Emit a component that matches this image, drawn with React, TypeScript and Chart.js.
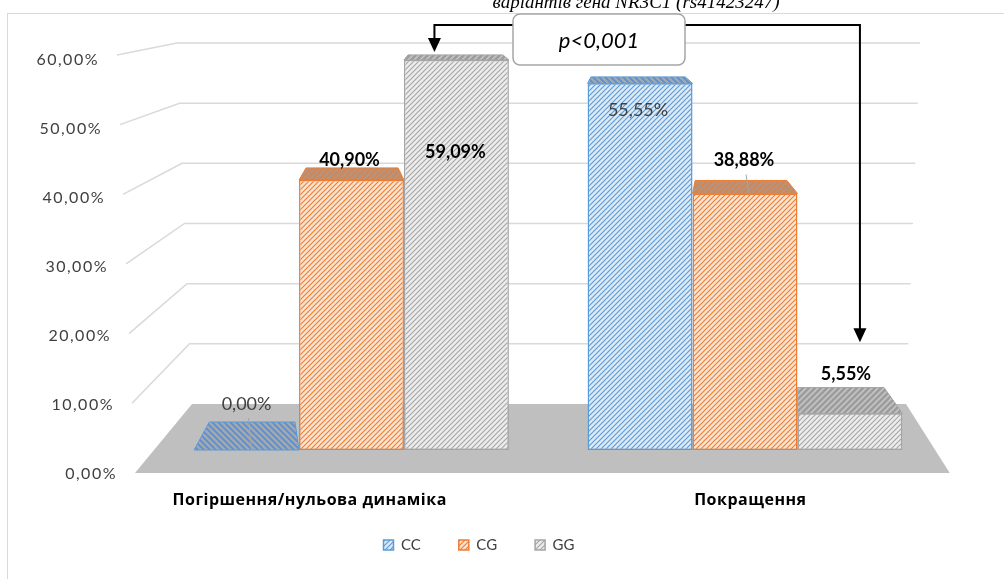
import React, { useEffect, useRef } from "react";
import { Chart, registerables } from "chart.js";

Chart.register(...registerables);

// ---------- data ----------
const categories = ["Погіршення/нульова динаміка", "Покращення"];
const seriesNames = ["CC", "CG", "GG"];
const ccValues = [0, 55.55];
const cgValues = [40.9, 38.88];
const ggValues = [59.09, 5.55];
const yTickValues = [0, 10, 20, 30, 40, 50, 60];
const titleText = "варіантів гена NR3C1 (rs41423247)";
const annotationText = "p<0,001";

// ---------- styles ----------
const seriesColors = ["#5b9bd5", "#ed7d31", "#a5a5a5"];
const frontBg = ["#dce9f6", "#fbe3d2", "#ececec"];
const topBg = ["#9fa9b4", "#b09584", "#9c9c9c"];
const topLine = ["#5b8ed0", "#d9844c", "#c4c4c4"];
const labelBold = [
  [false, false],
  [true, true],
  [true, true],
];
const labelDx = [
  [0, -2],
  [-2, -1],
  [-1, -4],
];
const labelDy = [
  [-46, 27],
  [-20, -33],
  [92, -39],
];
const leaders = [
  { ds: 0, idx: 0, from: 14, dx: 2 },
  { ds: 1, idx: 1, from: 14, dx: 2 },
];

const SANS = 'Lato, "Open Sans", sans-serif';
const CAT_FONT = '"Open Sans", sans-serif';

function makeHatch(bg: string, fg: string, size: number, lw: number, dir: number) {
  const c = document.createElement("canvas");
  c.width = size;
  c.height = size;
  const g = c.getContext("2d")!;
  g.fillStyle = bg;
  g.fillRect(0, 0, size, size);
  g.strokeStyle = fg;
  g.lineWidth = lw;
  g.beginPath();
  if (dir > 0) {
    g.moveTo(-1, size + 1);
    g.lineTo(size + 1, -1);
    g.moveTo(-1, 1);
    g.lineTo(1, -1);
    g.moveTo(size - 1, size + 1);
    g.lineTo(size + 1, size - 1);
  } else {
    g.moveTo(-1, -1);
    g.lineTo(size + 1, size + 1);
    g.moveTo(size - 1, -1);
    g.lineTo(size + 1, 1);
    g.moveTo(-1, size - 1);
    g.lineTo(1, size + 1);
  }
  g.stroke();
  return g.createPattern(c, "repeat")!;
}

function fmt(v: number) {
  return v.toFixed(2).replace(".", ",") + "%";
}

export default function App() {
  const ref = useRef<HTMLCanvasElement | null>(null);

  useEffect(() => {
    const canvas = ref.current!;
    const frontPatterns = seriesColors.map((c, i) => makeHatch(frontBg[i], c, 5, 1.1, 1));
    const topPatterns = seriesColors.map((c, i) => makeHatch(topBg[i], topLine[i], 6, 1.6, i === 0 ? -1 : 1));

    const scene = {
      id: "scene3d",
      beforeDraw(chart: any) {
        const ctx = chart.ctx as CanvasRenderingContext2D;
        ctx.save();
        ctx.fillStyle = "#ffffff";
        ctx.fillRect(0, 0, chart.width, chart.height);
        // frame
        ctx.strokeStyle = "#d9d9d9";
        ctx.lineWidth = 1;
        ctx.strokeRect(7.5, 13.5, chart.width + 20, chart.height + 20);
        // title (clipped at top)
        ctx.fillStyle = "#000";
        ctx.font = 'italic 19px "Liberation Serif", serif';
        ctx.textAlign = "center";
        ctx.textBaseline = "alphabetic";
        ctx.fillText(titleText, 636, 8);
        ctx.restore();
      },
      beforeDatasetsDraw(chart: any) {
        const ctx = chart.ctx as CanvasRenderingContext2D;
        const ys = chart.scales.y;
        const ca = chart.chartArea;
        const y0 = ys.getPixelForValue(0);
        const span = y0 - ys.getPixelForValue(ys.max);
        const t = (v: number) => (y0 - ys.getPixelForValue(v)) / span;
        const labX = (v: number) => ca.left - 19.75 - 18 * t(v);
        const labY = (v: number) => y0 + 23 - (y0 - ys.getPixelForValue(v)) * 1.0556;
        const backY = (v: number) => y0 - 46 - (y0 - ys.getPixelForValue(v)) * 0.9116;
        const backL = (v: number) => ca.left + 37.25 - 15 * t(v);
        const backR = (v: number) => ca.right - 35.75 + 14 * t(v);
        ctx.save();
        // floor
        ctx.fillStyle = "#bfbfbf";
        ctx.beginPath();
        ctx.moveTo(labX(0), labY(0));
        ctx.lineTo(ca.right + 8, labY(0));
        ctx.lineTo(backR(0), backY(0));
        ctx.lineTo(backL(0), backY(0));
        ctx.closePath();
        ctx.fill();
        // grid lines
        ctx.strokeStyle = "#d9d9d9";
        ctx.lineWidth = 1.5;
        for (const v of yTickValues) {
          if (v === 0) continue;
          ctx.beginPath();
          ctx.moveTo(labX(v), labY(v));
          ctx.lineTo(backL(v), backY(v));
          ctx.lineTo(backR(v), backY(v));
          ctx.stroke();
        }
        // tick labels
        ctx.fillStyle = "#404040";
        ctx.font = `16px ${SANS}`;
        (ctx as any).letterSpacing = "1.5px";
        ctx.textAlign = "right";
        ctx.textBaseline = "middle";
        for (const v of yTickValues) {
          ctx.fillText(fmt(v), labX(v) - 18, labY(v) + 1 + 4 * t(v));
        }
        (ctx as any).letterSpacing = "0px";
        // category labels (perspective-shifted on the floor's front edge)
        ctx.fillStyle = "#000";
        ctx.font = `bold 16px ${CAT_FONT}`;
        (ctx as any).letterSpacing = "0.5px";
        ctx.textAlign = "center";
        const xs = chart.scales.x;
        categories.forEach((c, i) => {
          const cx = xs.getPixelForValue(i);
          ctx.fillText(c, 700 + (cx - 700) * 1.12, y0 + 50);
        });
        (ctx as any).letterSpacing = "0px";
        ctx.restore();
      },
      afterDatasetsDraw(chart: any) {
        const ctx = chart.ctx as CanvasRenderingContext2D;
        const ys = chart.scales.y;
        const ymax = ys.getPixelForValue(ys.max);
        ctx.save();
        // top faces
        chart.data.datasets.forEach((ds: any, i: number) => {
          const meta = chart.getDatasetMeta(i);
          meta.data.forEach((el: any) => {
            const { x, y, width } = el.getProps(["x", "y", "width"], true);
            const L = x - width / 2;
            const R = x + width / 2;
            const d = 0.0587 * (y - ymax) + 4.75;
            const c = (577 - x) * d * 0.000914;
            const shrink = 8 + 0.4 * d;
            const bl = L + c + shrink * 0.35;
            const br = R + c - shrink * 0.65;
            ctx.beginPath();
            ctx.moveTo(L, y);
            ctx.lineTo(R, y);
            ctx.lineTo(br, y - d);
            ctx.lineTo(bl, y - d);
            ctx.closePath();
            ctx.fillStyle = topPatterns[i];
            ctx.fill();
            ctx.strokeStyle = seriesColors[i];
            ctx.lineWidth = 1;
            ctx.stroke();
          });
        });
        // leader lines
        ctx.strokeStyle = "#a6a6a6";
        ctx.lineWidth = 1;
        for (const ld of leaders) {
          const el = chart.getDatasetMeta(ld.ds).data[ld.idx];
          const { x, y } = el.getProps(["x", "y"], true);
          const ly = y + labelDy[ld.ds][ld.idx] + ld.from;
          ctx.beginPath();
          ctx.moveTo(x + labelDx[ld.ds][ld.idx] + ld.dx, ly);
          ctx.lineTo(x + labelDx[ld.ds][ld.idx] + ld.dx + 3, y);
          ctx.stroke();
        }
        // data labels
        ctx.textAlign = "center";
        ctx.textBaseline = "middle";
        chart.data.datasets.forEach((ds: any, i: number) => {
          const meta = chart.getDatasetMeta(i);
          meta.data.forEach((el: any, j: number) => {
            const { x, y } = el.getProps(["x", "y"], true);
            const bold = labelBold[i][j];
            ctx.font = `${bold ? "bold " : ""}18px ${SANS}`;
            ctx.fillStyle = bold ? "#000" : "#404040";
            ctx.fillText(fmt(ds.data[j]), x + labelDx[i][j], y + labelDy[i][j]);
          });
        });
        ctx.restore();
      },
      afterDraw(chart: any) {
        const ctx = chart.ctx as CanvasRenderingContext2D;
        const gg = chart.getDatasetMeta(2).data;
        const a = gg[0].getProps(["x", "y"], true);
        const b = gg[1].getProps(["x", "y"], true);
        const boxL = 513, boxR = 685, boxT = 14, boxB = 65, lineY = 25;
        ctx.save();
        ctx.strokeStyle = "#000";
        ctx.fillStyle = "#000";
        ctx.lineWidth = 2;
        const arrow = (x0: number, x1: number, tipY: number) => {
          ctx.beginPath();
          ctx.moveTo(x0, lineY);
          ctx.lineTo(x1, lineY);
          ctx.lineTo(x1, tipY - 12);
          ctx.stroke();
          ctx.beginPath();
          ctx.moveTo(x1 - 6.5, tipY - 14);
          ctx.lineTo(x1 + 6.5, tipY - 14);
          ctx.lineTo(x1, tipY);
          ctx.closePath();
          ctx.fill();
        };
        arrow(boxL, a.x - 22, a.y - 8);
        arrow(boxR, b.x + 10, b.y - 71);
        ctx.beginPath();
        (ctx as any).roundRect(boxL, boxT, boxR - boxL, boxB - boxT, 7);
        ctx.fillStyle = "#fff";
        ctx.fill();
        ctx.strokeStyle = "#a6a6a6";
        ctx.lineWidth = 1.5;
        ctx.stroke();
        ctx.fillStyle = "#000";
        ctx.font = `italic 22px ${SANS}`;
        ctx.textAlign = "center";
        ctx.textBaseline = "middle";
        ctx.fillText(annotationText, (boxL + boxR) / 2, 41);
        ctx.restore();
      },
    };

    const chart = new Chart(canvas, {
      type: "bar",
      data: {
        labels: categories,
        datasets: [ccValues, cgValues, ggValues].map((vals, i) => ({
          label: seriesNames[i],
          data: vals,
          backgroundColor: frontPatterns[i],
          borderColor: seriesColors[i],
          borderWidth: 1.5,
          borderSkipped: false,
        })),
      },
      options: {
        responsive: false,
        animation: false,
        devicePixelRatio: 1,
        datasets: { bar: { categoryPercentage: 0.8, barPercentage: 1 } },
        layout: { padding: { left: 8, right: 54, top: 54, bottom: 16.5 } },
        plugins: {
          legend: {
            position: "bottom",
            labels: {
              boxWidth: 10,
              boxHeight: 10,
              padding: 38,
              color: "#404040",
              font: { family: SANS, size: 15 },
            },
          },
          tooltip: { enabled: false },
          title: { display: false },
        },
        scales: {
          x: {
            grid: { display: false },
            border: { display: false },
            ticks: { display: false },
            afterFit: (s: any) => {
              s.height = 49.5;
            },
          },
          y: {
            min: 0,
            max: 60,
            grid: { display: false },
            border: { display: false },
            ticks: { display: false },
            afterFit: (s: any) => {
              s.width = 146.75;
            },
          },
          yr: {
            type: "linear",
            position: "right",
            min: 0,
            max: 60,
            grid: { display: false },
            border: { display: false },
            ticks: { display: false },
            afterFit: (s: any) => {
              s.width = 8.25;
            },
          },
        },
      },
      plugins: [scene],
    } as any);

    return () => chart.destroy();
  }, []);

  return (
    <div style={{ position: "absolute", left: 0, top: 0, width: 1004, height: 579, background: "#fff" }}>
      <canvas ref={ref} width={1004} height={579} style={{ display: "block", width: 1004, height: 579 }} />
    </div>
  );
}
